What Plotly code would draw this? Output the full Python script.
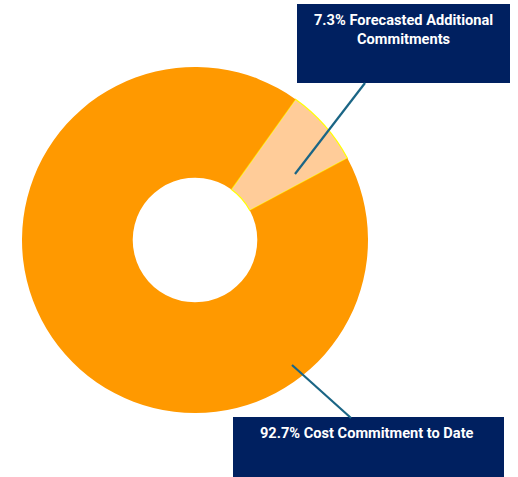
import plotly.graph_objects as go

labels = ["Forecasted Additional Commitments", "Cost Commitment to Date"]
values = [7.3, 92.7]
colors = ["#FFCC99", "#FF9900"]

W, H = 518, 477
cx, cy, r = 195, 240, 173

fig = go.Figure()
fig.add_trace(go.Pie(
    labels=labels, values=values, sort=False, direction="clockwise",
    rotation=35.5, hole=0.36,
    marker=dict(colors=colors, line=dict(color="#FFFF00", width=[1.2, 0])),
    textinfo="none", hoverinfo="label+percent", showlegend=False,
    domain=dict(x=[(cx - r) / W, (cx + r) / W],
                y=[(H - cy - r) / H, (H - cy + r) / H]),
))

navy = "#002060"
teal = "#1A6585"
shapes = [
    dict(type="rect", x0=297, x1=510, y0=4, y1=83, fillcolor=navy, line=dict(width=0), layer="above"),
    dict(type="rect", x0=233, x1=504, y0=417, y1=478, fillcolor=navy, line=dict(width=0), layer="above"),
    dict(type="line", x0=295, y0=174, x1=365, y1=83, line=dict(color=teal, width=2.2), layer="above"),
    dict(type="line", x0=292, y0=365, x1=351, y1=418, line=dict(color=teal, width=2.2), layer="above"),
]

font = dict(family="Roboto", size=14.6, color="white")
annotations = [
    dict(x=403, y=9, text=f"<b>{values[0]}% Forecasted Additional<br>Commitments</b>",
         xref="x", yref="y", xanchor="center", yanchor="top", showarrow=False, font=font),
    dict(x=367, y=422, text=f"<b>{values[1]}% Cost Commitment to Date</b>",
         xref="x", yref="y", xanchor="center", yanchor="top", showarrow=False, font=font),
]

fig.update_layout(
    width=W, height=H, margin=dict(l=0, r=0, t=0, b=0),
    paper_bgcolor="white", plot_bgcolor="rgba(0,0,0,0)",
    xaxis=dict(range=[0, W], visible=False, fixedrange=True),
    yaxis=dict(range=[H, 0], visible=False, fixedrange=True),
    shapes=shapes, annotations=annotations,
)
fig.write_html("out.html", config={"displayModeBar": False})

with open("out.html", encoding="utf-8") as f:
    html = f.read()
html = html.replace("<body>", '<body style="margin:0;overflow:hidden">', 1)
with open("out.html", "w", encoding="utf-8") as f:
    f.write(html)
